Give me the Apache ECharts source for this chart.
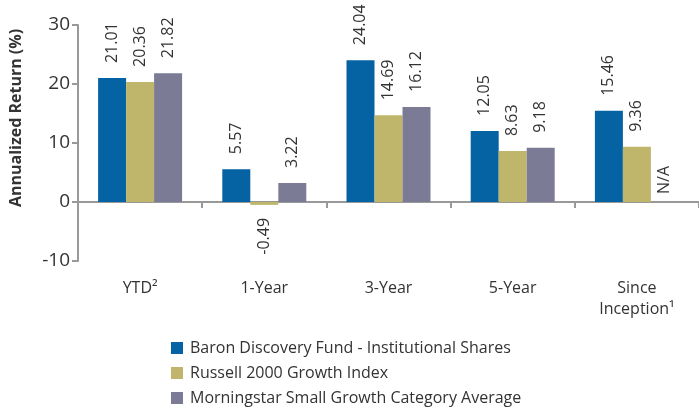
<!DOCTYPE html>
<html>
<head>
<meta charset="utf-8">
<script src="https://cdn.jsdelivr.net/npm/echarts@6/dist/echarts.min.js"></script>
<style>
  html, body { margin: 0; padding: 0; background: #fff; }
  #chart { width: 699px; height: 408px; }
</style>
</head>
<body>
<div id="chart"></div>
<script>
const categories = ["YTD\u00b2", "1-Year", "3-Year", "5-Year", "Since\nInception\u00b9"];
const seriesNames = [
  "Baron Discovery Fund - Institutional Shares",
  "Russell 2000 Growth Index",
  "Morningstar Small Growth Category Average"
];
const baronFund = [21.01, 5.57, 24.04, 12.05, 15.46];
const russellIndex = [20.36, -0.49, 14.69, 8.63, 9.36];
const morningstarAvg = [21.82, 3.22, 16.12, 9.18, null];
const yTicks = { min: -10, max: 30, interval: 10 };
const colors = ["#0563a3", "#bfb66c", "#7b7b95"];

const font = "'Open Sans', 'Noto Sans', sans-serif";

// 把数值转成 bar 的 data，负数标签朝下，空值写 N/A
function toItems(arr) {
  return arr.map(function (v) {
    if (v === null) {
      return { value: 0, label: { formatter: "N/A", distance: 8 } };
    }
    if (v < 0) {
      return { value: v, label: { position: "bottom", align: "right", distance: 13 } };
    }
    return v;
  });
}

const chart = echarts.init(document.getElementById("chart"));
const option = {
  animation: false,
  color: colors,
  textStyle: { fontFamily: font },
  grid: { left: 78, right: -1, top: 25, bottom: 147 },
  legend: {
    orient: "vertical",
    left: 166,
    top: 335,
    height: 80,
    itemWidth: 12,
    itemHeight: 12,
    itemGap: 9,
    icon: "rect",
    textStyle: { fontSize: 16, color: "#333", fontFamily: font, padding: [0, 0, 0, 2] },
    data: seriesNames
  },
  xAxis: [
    {
      type: "category",
      data: categories,
      position: "bottom",
      axisLine: { show: false, onZero: false },
      axisTick: { show: false },
      axisLabel: { fontSize: 16, color: "#333", margin: 17, lineHeight: 21 }
    },
    {
      type: "category",
      data: categories,
      position: "top",
      axisLine: { onZero: true, lineStyle: { color: "#999", width: 2 } },
      axisTick: { show: true, inside: true, length: 6, lineStyle: { color: "#999", width: 2 } },
      axisLabel: { show: false }
    }
  ],
  yAxis: {
    type: "value",
    min: yTicks.min,
    max: yTicks.max,
    interval: yTicks.interval,
    name: "Annualized Return (%)",
    nameLocation: "middle",
    nameGap: 54,
    nameTextStyle: { fontSize: 16, fontWeight: "bold", color: "#333", padding: [0, 0, 0, 50] },
    axisLine: { show: true, lineStyle: { color: "#999", width: 2 } },
    axisTick: { show: true, length: 6, lineStyle: { color: "#999", width: 2 } },
    axisLabel: { fontSize: 19, color: "#333", margin: 8 },
    splitLine: { show: false }
  },
  series: [baronFund, russellIndex, morningstarAvg].map(function (arr, i) {
    return {
      name: seriesNames[i],
      type: "bar",
      xAxisIndex: 0,
      data: toItems(arr),
      barWidth: 28,
      barGap: "0%",
      label: {
        show: true,
        position: "top",
        rotate: 90,
        align: "left",
        verticalAlign: "middle",
        distance: 15,
        fontSize: 16,
        color: "#333"
      }
    };
  })
};
chart.setOption(option);
</script>
</body>
</html>
